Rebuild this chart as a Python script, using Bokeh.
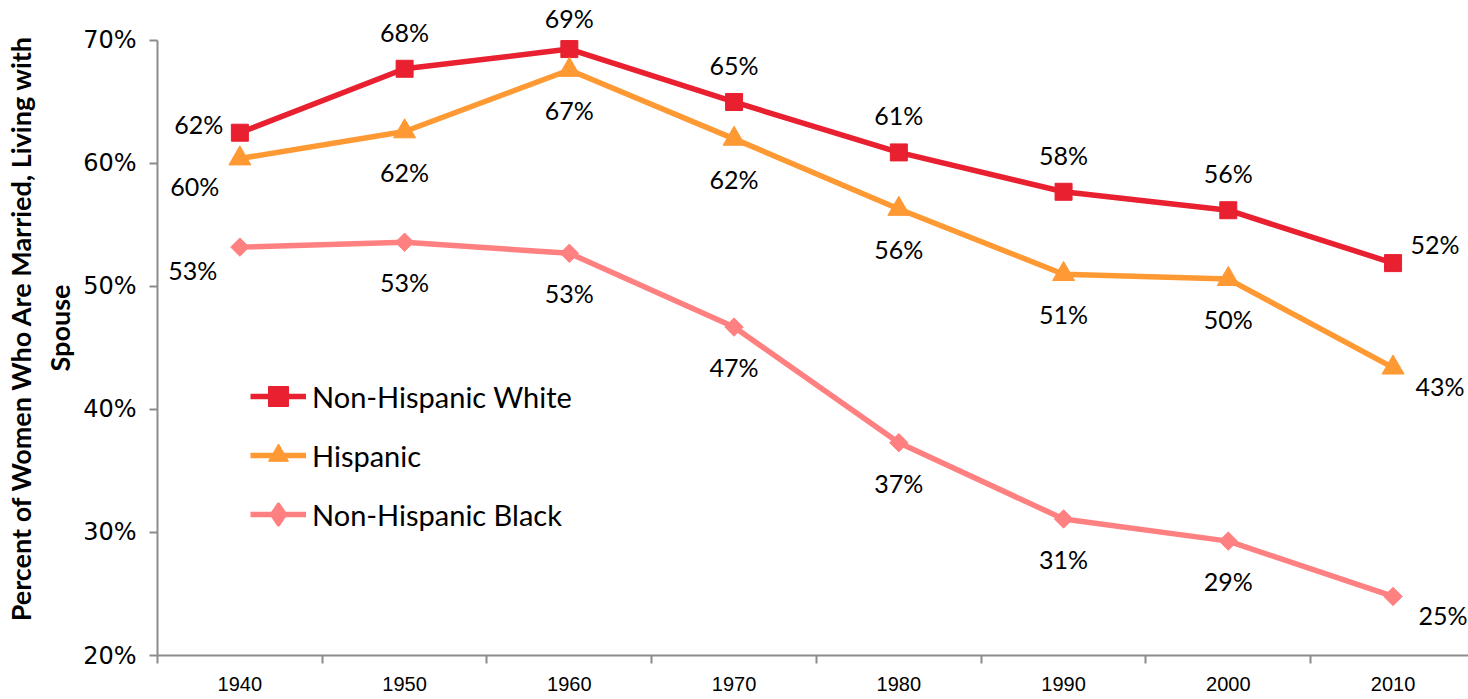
import math
from bokeh.plotting import figure
from bokeh.models import (ColumnDataSource, Range1d, FixedTicker, Legend, LegendItem,
                          PrintfTickFormatter)
from bokeh.core.properties import value
from bokeh.embed import file_html
from bokeh.resources import INLINE

# ---- data ----
years = ["1940", "1950", "1960", "1970", "1980", "1990", "2000", "2010"]
white = [62.5, 67.7, 69.3, 65.0, 60.9, 57.7, 56.2, 51.9]
hispanic = [60.4, 62.6, 67.6, 62.0, 56.3, 51.0, 50.6, 43.4]
black = [53.2, 53.6, 52.7, 46.7, 37.3, 31.1, 29.3, 24.8]
white_labels = ["62%", "68%", "69%", "65%", "61%", "58%", "56%", "52%"]
hispanic_labels = ["60%", "62%", "67%", "62%", "56%", "51%", "50%", "43%"]
black_labels = ["53%", "53%", "53%", "47%", "37%", "31%", "29%", "25%"]
y_ticks = [20, 30, 40, 50, 60, 70]
series_names = ["Non-Hispanic White", "Hispanic", "Non-Hispanic Black"]

x = [i + 0.5 for i in range(len(years))]

Y_TOP = 73.25
PX_PER_UNIT = 12.3

p = figure(width=1468, height=699, output_backend="svg", toolbar_location=None,
           x_range=Range1d(0, 7.958), y_range=Range1d(20, Y_TOP),
           min_border_left=155, min_border_right=0, min_border_top=0, min_border_bottom=44)
p.xgrid.visible = False
p.ygrid.visible = False
p.outline_line_color = None
p.background_fill_color = "white"
p.border_fill_color = "white"

axis_col = "#8c8c8c"
# x axis
p.xaxis.ticker = FixedTicker(ticks=x, minor_ticks=list(range(len(years) + 1)))
p.xaxis.major_label_overrides = {xx: yr for xx, yr in zip(x, years)}
p.xaxis.major_tick_line_alpha = 0
p.xaxis.major_tick_out = 8
p.xaxis.major_tick_in = 0
p.xaxis.minor_tick_out = 8
p.xaxis.minor_tick_in = 0
p.xaxis.minor_tick_line_color = axis_col
p.xaxis.minor_tick_line_width = 2
p.xaxis.axis_line_color = axis_col
p.xaxis.axis_line_width = 2
p.xaxis.major_label_standoff = 13
p.xaxis.major_label_text_font = "Liberation Sans"
p.xaxis.major_label_text_font_size = "20px"
p.xaxis.major_label_text_color = "black"

# y axis
p.yaxis.ticker = FixedTicker(ticks=y_ticks, minor_ticks=[])
p.yaxis.bounds = (20, 70)
p.yaxis.formatter = PrintfTickFormatter(format="%d%%")
p.yaxis.major_tick_out = 8
p.yaxis.major_tick_in = 0
p.yaxis.major_tick_line_color = axis_col
p.yaxis.major_tick_line_width = 2
p.yaxis.axis_line_color = axis_col
p.yaxis.axis_line_width = 2
p.yaxis.major_label_standoff = 13
p.yaxis.major_label_text_font = "DejaVu Sans"
p.yaxis.major_label_text_font_size = "24px"
p.yaxis.major_label_text_color = "black"
p.yaxis.axis_label = "Percent of Women Who Are Married, Living with\nSpouse"
p.yaxis.axis_label_text_font = "Lato"
p.yaxis.axis_label_text_font_style = "bold"
p.yaxis.axis_label_text_font_size = "27px"
p.yaxis.axis_label_text_color = "black"
p.yaxis.axis_label_standoff = 4

styles = [
    dict(vals=white, labels=white_labels, color="#E8202F", marker="square", size=17, angle=0,
         legend_marker=None, first=(-41, -9), mid=(0, -37), last=(42, -19)),
    dict(vals=hispanic, labels=hispanic_labels, color="#FF9933", marker="triangle", size=22, angle=0,
         legend_marker=None, first=(-45, 27), mid=(0, 40), last=(47, 18)),
    dict(vals=black, labels=black_labels, color="#FF8080", marker="square", size=13, angle=math.pi / 4,
         legend_marker="diamond", first=(-47, 23), mid=(0, 40), last=(50, 19)),
]

items = []
for name, st in zip(series_names, styles):
    n = len(st["vals"])
    xo = [st["first"][0]] + [st["mid"][0]] * (n - 2) + [st["last"][0]]
    yo = [st["first"][1]] + [st["mid"][1]] * (n - 2) + [st["last"][1]]
    # keep labels that sit above points inside the top of the canvas
    for i, v in enumerate(st["vals"]):
        sy = (Y_TOP - v) * PX_PER_UNIT
        if sy + yo[i] < 17:
            yo[i] = 17 - sy
    src = ColumnDataSource(dict(x=x, y=st["vals"], t=st["labels"], xo=xo, yo=yo))
    lr = p.line("x", "y", source=src, line_width=5.5, line_color=st["color"], line_join="round")
    sr = p.scatter("x", "y", source=src, marker=st["marker"], size=st["size"], angle=st["angle"],
                   fill_color=st["color"], line_color=st["color"])
    p.text("x", "y", text="t", source=src, x_offset="xo", y_offset="yo",
           text_align="center", text_baseline="middle", text_font=value("Lato"),
           text_font_size="25px", text_color="black")
    rends = [lr, sr]
    if st["legend_marker"]:
        lg = p.scatter("x", "y", source=src, marker=st["legend_marker"], size=st["size"],
                       fill_color=st["color"], line_color=st["color"], line_width=4,
                       line_join="round")
        lg.visible = False
        rends = [lr, lg]
    items.append(LegendItem(label=name, renderers=rends))

legend = Legend(items=items, location=(93, 116), glyph_width=56, glyph_height=50,
                spacing=9, padding=0, margin=0, label_standoff=6,
                label_text_font="Lato", label_text_font_size="29px",
                label_text_color="black", border_line_color=None,
                background_fill_alpha=0, inactive_fill_alpha=0)
p.add_layout(legend)

open("out.html", "w").write(file_html(p, INLINE))
